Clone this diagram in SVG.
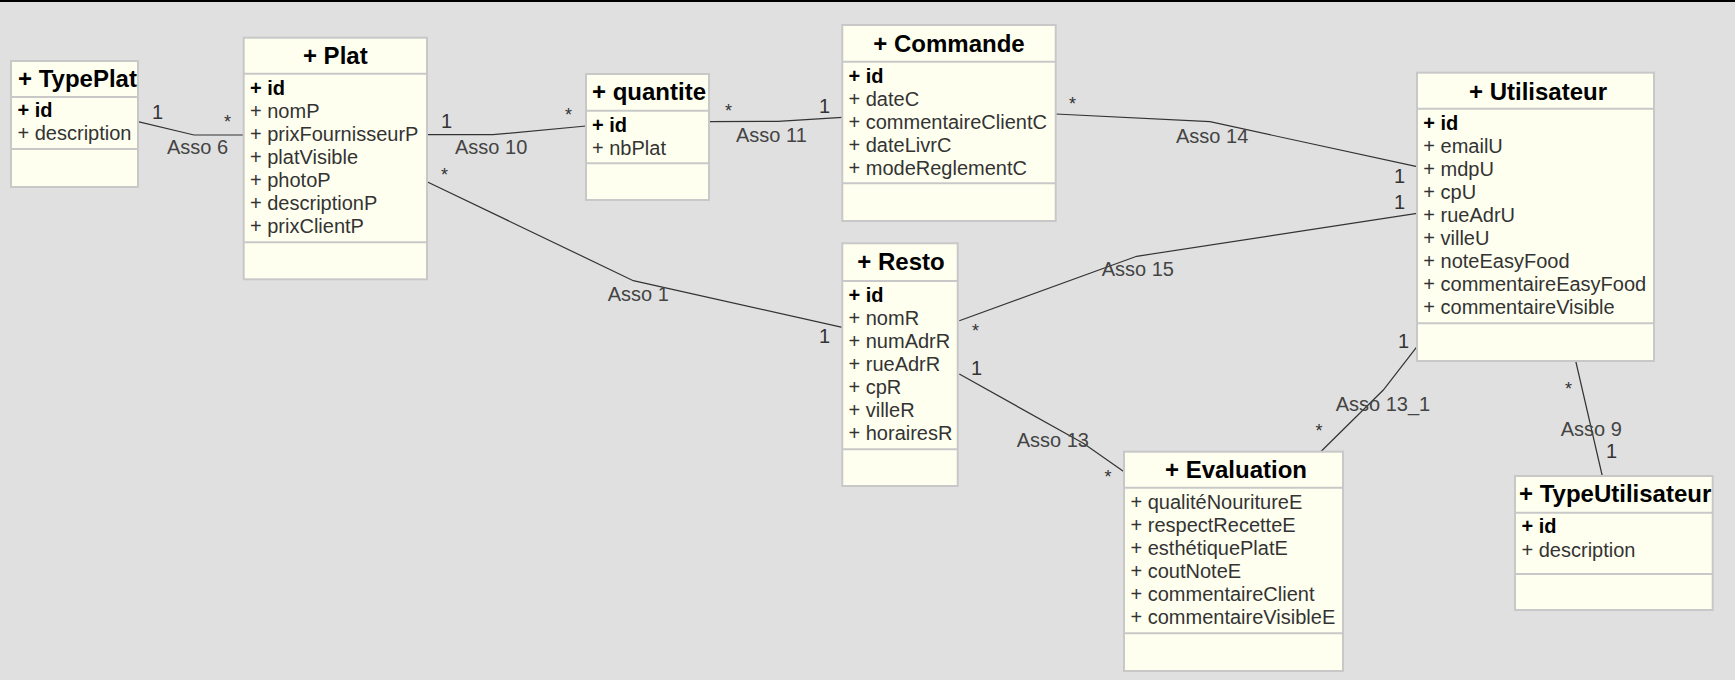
<svg xmlns="http://www.w3.org/2000/svg" width="1735" height="680" viewBox="0 0 1735 680">
<style>
.box{fill:#fffff0;stroke:#c8c8c8;stroke-width:2}
.sep{stroke:#c8c8c8;stroke-width:2}
.title{font-family:"Liberation Sans",Arial,sans-serif;font-size:24px;font-weight:bold;fill:#000}
.attr{font-family:"Liberation Sans",Arial,sans-serif;font-size:20px;fill:#333}
.key{font-family:"Liberation Sans",Arial,sans-serif;font-size:20px;font-weight:bold;fill:#000}
.conn{fill:none;stroke:#333;stroke-width:1.2}
.lbl{font-family:"Liberation Sans",Arial,sans-serif;font-size:20px;fill:#444}
.mul{font-family:"Liberation Sans",Arial,sans-serif;font-size:20px;fill:#333}
.star{font-family:"Liberation Sans",Arial,sans-serif;font-size:18px;fill:#333}
</style>
<defs>
<clipPath id="cTypePlat"><rect x="11" y="61" width="127" height="36"/></clipPath>
<clipPath id="cTypeU"><rect x="1515" y="476" width="197.7" height="36.7"/></clipPath>
</defs>
<rect x="0" y="0" width="1735" height="680" fill="#e0e0e0"/>
<rect x="0" y="0" width="1735" height="2" fill="#000"/>

<g id="connectors">
<polyline class="conn" points="138,121.7 194,135 243.7,135"/>
<polyline class="conn" points="427,134.7 493,134.7 586,126"/>
<polyline class="conn" points="709,121.7 778,121.3 842.3,117.3"/>
<polyline class="conn" points="1055.7,114 1210,121.7 1417,166.7"/>
<polyline class="conn" points="427,181.7 633.3,280.7 842.3,327.3"/>
<polyline class="conn" points="959.3,320.7 1136.7,256.3 1417,213.3"/>
<polyline class="conn" points="959.3,374 1083.3,443.3 1124,471.7"/>
<polyline class="conn" points="1417,346.7 1383.3,390 1320.7,451.7"/>
<polyline class="conn" points="1575.7,361 1602.3,476"/>
<text class="mul" x="152" y="119">1</text>
<text class="star" x="224" y="128">*</text>
<text class="lbl" x="167" y="154">Asso 6</text>
<text class="mul" x="441" y="127.7">1</text>
<text class="star" x="565" y="121">*</text>
<text class="lbl" x="455" y="154">Asso 10</text>
<text class="star" x="441" y="181">*</text>
<text class="star" x="725" y="117">*</text>
<text class="mul" x="819" y="112.7">1</text>
<text class="lbl" x="736" y="141.7">Asso 11</text>
<text class="star" x="1069" y="110">*</text>
<text class="lbl" x="1176" y="142.7">Asso 14</text>
<text class="mul" x="1394" y="183.3">1</text>
<text class="mul" x="1394" y="209.3">1</text>
<text class="lbl" x="1101.7" y="276">Asso 15</text>
<text class="star" x="972" y="337">*</text>
<text class="lbl" x="607.7" y="301">Asso 1</text>
<text class="mul" x="819" y="343.3">1</text>
<text class="mul" x="971" y="375">1</text>
<text class="lbl" x="1016.7" y="446.7">Asso 13</text>
<text class="star" x="1104.4" y="483">*</text>
<text class="mul" x="1398" y="348.3">1</text>
<text class="lbl" x="1335.7" y="411">Asso 13_1</text>
<text class="star" x="1315.4" y="436.5">*</text>
<text class="star" x="1565" y="395">*</text>
<text class="lbl" x="1560.7" y="435.7">Asso 9</text>
<text class="mul" x="1606" y="457.7">1</text>
</g>

<g id="TypePlat">
<rect class="box" x="11" y="61" width="127" height="126"/>
<line class="sep" x1="11" y1="97" x2="138" y2="97"/>
<line class="sep" x1="11" y1="149" x2="138" y2="149"/>
<text class="title" x="18" y="87" clip-path="url(#cTypePlat)">+ TypePlat</text>
<text class="key" x="17.5" y="117">+ id</text>
<text class="attr" x="17.5" y="140">+ description</text>
</g>

<g id="Plat">
<rect class="box" x="243.7" y="37.7" width="183.3" height="241.6"/>
<line class="sep" x1="243.7" y1="73.7" x2="427" y2="73.7"/>
<line class="sep" x1="243.7" y1="242.3" x2="427" y2="242.3"/>
<text class="title" x="335.3" y="64" text-anchor="middle">+ Plat</text>
<text class="key" x="250" y="95">+ id</text>
<text class="attr" x="250" y="118">+ nomP</text>
<text class="attr" x="250" y="141">+ prixFournisseurP</text>
<text class="attr" x="250" y="164">+ platVisible</text>
<text class="attr" x="250" y="187">+ photoP</text>
<text class="attr" x="250" y="210">+ descriptionP</text>
<text class="attr" x="250" y="233">+ prixClientP</text>
</g>

<g id="quantite">
<rect class="box" x="586" y="74" width="123" height="126"/>
<line class="sep" x1="586" y1="110.7" x2="709" y2="110.7"/>
<line class="sep" x1="586" y1="163.3" x2="709" y2="163.3"/>
<text class="title" x="592" y="100">+ quantite</text>
<text class="key" x="592" y="131.5">+ id</text>
<text class="attr" x="592" y="154.5">+ nbPlat</text>
</g>

<g id="Commande">
<rect class="box" x="842.3" y="25" width="213.4" height="196"/>
<line class="sep" x1="842.3" y1="61.7" x2="1055.7" y2="61.7"/>
<line class="sep" x1="842.3" y1="183.3" x2="1055.7" y2="183.3"/>
<text class="title" x="949" y="51.7" text-anchor="middle">+ Commande</text>
<text class="key" x="848.5" y="82.5">+ id</text>
<text class="attr" x="848.5" y="105.5">+ dateC</text>
<text class="attr" x="848.5" y="128.5">+ commentaireClientC</text>
<text class="attr" x="848.5" y="151.5">+ dateLivrC</text>
<text class="attr" x="848.5" y="174.5">+ modeReglementC</text>
</g>

<g id="Resto">
<rect class="box" x="842.3" y="243.3" width="115.4" height="242.7"/>
<line class="sep" x1="842.3" y1="281" x2="957.7" y2="281"/>
<line class="sep" x1="842.3" y1="449.3" x2="957.7" y2="449.3"/>
<text class="title" x="901" y="270" text-anchor="middle">+ Resto</text>
<text class="key" x="848.5" y="301.5">+ id</text>
<text class="attr" x="848.5" y="324.5">+ nomR</text>
<text class="attr" x="848.5" y="347.5">+ numAdrR</text>
<text class="attr" x="848.5" y="370.5">+ rueAdrR</text>
<text class="attr" x="848.5" y="393.5">+ cpR</text>
<text class="attr" x="848.5" y="416.5">+ villeR</text>
<text class="attr" x="848.5" y="439.5">+ horairesR</text>
</g>

<g id="Utilisateur">
<rect class="box" x="1417" y="72.7" width="237" height="288.3"/>
<line class="sep" x1="1417" y1="108.7" x2="1654" y2="108.7"/>
<line class="sep" x1="1417" y1="323.3" x2="1654" y2="323.3"/>
<text class="title" x="1538" y="100" text-anchor="middle">+ Utilisateur</text>
<text class="key" x="1423.3" y="130">+ id</text>
<text class="attr" x="1423.3" y="153">+ emailU</text>
<text class="attr" x="1423.3" y="176">+ mdpU</text>
<text class="attr" x="1423.3" y="199">+ cpU</text>
<text class="attr" x="1423.3" y="222">+ rueAdrU</text>
<text class="attr" x="1423.3" y="245">+ villeU</text>
<text class="attr" x="1423.3" y="268">+ noteEasyFood</text>
<text class="attr" x="1423.3" y="291">+ commentaireEasyFood</text>
<text class="attr" x="1423.3" y="314">+ commentaireVisible</text>
</g>

<g id="Evaluation">
<rect class="box" x="1124" y="451.7" width="219" height="219.3"/>
<line class="sep" x1="1124" y1="487.7" x2="1343" y2="487.7"/>
<line class="sep" x1="1124" y1="633.3" x2="1343" y2="633.3"/>
<text class="title" x="1236" y="477.7" text-anchor="middle">+ Evaluation</text>
<text class="attr" x="1130.5" y="509">+ qualitéNouritureE</text>
<text class="attr" x="1130.5" y="532">+ respectRecetteE</text>
<text class="attr" x="1130.5" y="555">+ esthétiquePlatE</text>
<text class="attr" x="1130.5" y="578">+ coutNoteE</text>
<text class="attr" x="1130.5" y="601">+ commentaireClient</text>
<text class="attr" x="1130.5" y="624">+ commentaireVisibleE</text>
</g>

<g id="TypeUtilisateur">
<rect class="box" x="1515" y="476" width="197.7" height="134"/>
<line class="sep" x1="1515" y1="512.7" x2="1712.7" y2="512.7"/>
<line class="sep" x1="1515" y1="574" x2="1712.7" y2="574"/>
<text class="title" x="1519" y="502.3" clip-path="url(#cTypeU)">+ TypeUtilisateur</text>
<text class="key" x="1521.5" y="533.3">+ id</text>
<text class="attr" x="1521.5" y="556.7">+ description</text>
</g>
</svg>
